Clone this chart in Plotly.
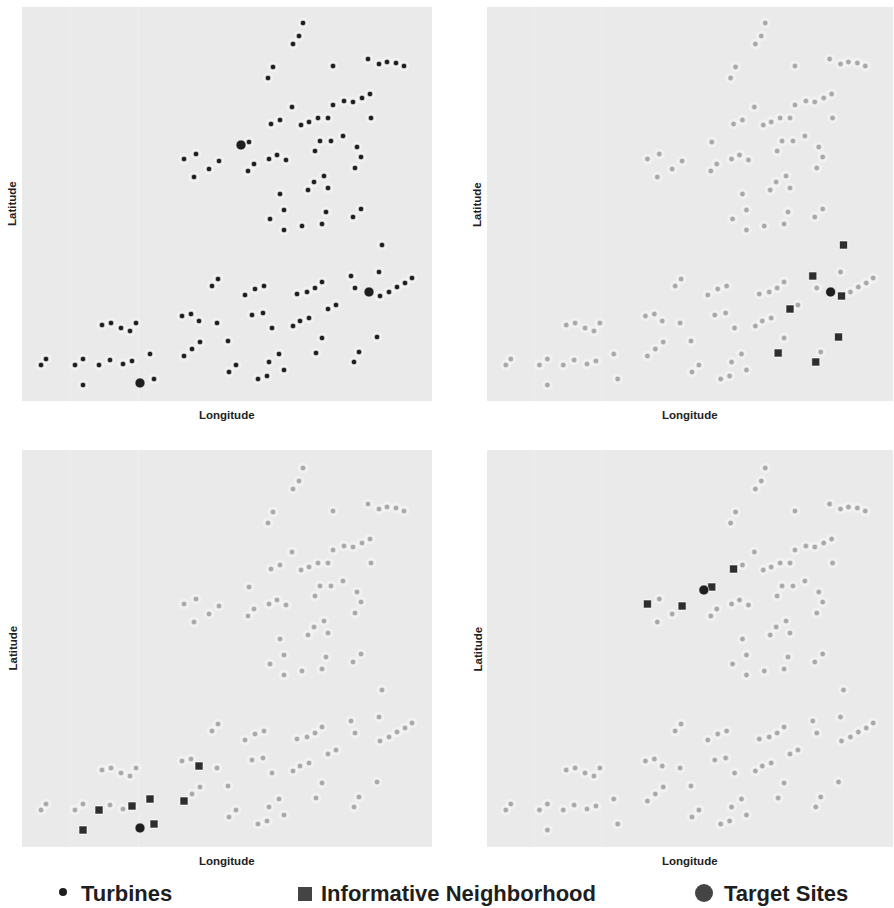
import plotly.graph_objects as go

W, H = 894, 908

# ---- data (arbitrary planar units: longitude / latitude) ----
turbine_lon = [164, 176, 199, 189, 174, 283, 279, 273, 253, 248,
               313, 348, 359, 367, 376, 384, 272, 251, 260, 281,
               289, 298, 308, 313, 324, 333, 342, 350, 351, 229,
               234, 228, 249, 257, 266, 300, 311, 323, 295, 337,
               341, 335, 304, 294, 288, 308, 260, 264, 250, 264,
               282, 306, 302, 341, 333, 362, 331, 359, 335, 360,
               369, 377, 385, 392, 198, 225, 235, 244, 277, 287,
               295, 302, 316, 308, 232, 243, 252, 273, 280, 289,
               302, 296, 357, 339, 334, 208, 216, 209, 259, 249,
               264, 247, 238, 192, 162, 171, 179, 197, 180, 172,
               164, 82, 91, 101, 110, 116, 26, 21, 63, 55,
               79, 90, 103, 112, 130, 63, 134]
turbine_lat = [241, 246, 239, 231, 223, 377, 364, 356, 333, 322,
               334, 341, 336, 338, 337, 334, 293, 276, 280, 275,
               278, 282, 282, 295, 299, 298, 302, 306, 282, 258,
               236, 229, 241, 245, 240, 259, 259, 264, 249, 253,
               243, 232, 224, 218, 210, 212, 206, 190, 181, 170,
               174, 188, 176, 191, 183, 155, 124, 128, 112, 104,
               108, 113, 117, 122, 121, 105, 111, 114, 106, 108,
               112, 118, 95, 91, 85, 87, 72, 74, 79, 82,
               62, 47, 63, 48, 38, 59, 35, 28, 46, 38,
               30, 24, 21, 114, 84, 86, 79, 77, 58, 51,
               44, 75, 77, 72, 69, 77, 41, 35, 41, 35,
               35, 40, 36, 39, 46, 15, 21]

target_lon = [221, 349, 120]
target_lat = [255, 108, 17]

# turbine indices forming the informative neighbourhood of each target
neighborhood = {
    1: [55, 56, 59, 73, 82, 81, 84],
    2: [96, 114, 100, 113, 110, 115, 116],
    0: [29, 17, 2, 0],
}

legend_labels = ["Turbines", "Informative Neighborhood", "Target Sites"]

# ---- layout geometry (pixels) ----
panels = [
    (22, 432, 7, 401, [-1, 393]),
    (487, 893, 7, 401, [-1, 393]),
    (22, 432, 450, 847, [-2, 395]),
    (487, 893, 450, 847, [-2, 395]),
]
XRANGE = [2, 412]
BG = "#eaeaea"

fig = go.Figure()
layout = dict(width=W, height=H, margin=dict(l=0, r=0, t=0, b=0),
              paper_bgcolor="white", plot_bgcolor=BG, showlegend=False)

for i, (x0, x1, yt, yb, yr) in enumerate(panels):
    n = "" if i == 0 else str(i + 1)
    layout["xaxis" + n] = dict(domain=[x0 / W, x1 / W], range=XRANGE,
                               anchor="y" + n, showticklabels=False, ticks="",
                               tickvals=[50, 118], showgrid=True, gridcolor="#eeeeee",
                               gridwidth=1, zeroline=False, showline=False)
    layout["yaxis" + n] = dict(domain=[1 - yb / H, 1 - yt / H], range=yr,
                               anchor="x" + n, showticklabels=False, ticks="",
                               showgrid=False, zeroline=False, showline=False)

annotations = []
shapes = []
for i, (x0, x1, yt, yb, yr) in enumerate(panels):
    xa = "x" if i == 0 else "x" + str(i + 1)
    ya = "y" if i == 0 else "y" + str(i + 1)
    # soft halo
    fig.add_trace(go.Scatter(x=turbine_lon, y=turbine_lat, mode="markers",
                             xaxis=xa, yaxis=ya, hoverinfo="skip",
                             marker=dict(size=11, color="white", opacity=0.35,
                                         line=dict(width=0))))
    if i == 0:
        fig.add_trace(go.Scatter(x=turbine_lon, y=turbine_lat, mode="markers",
                                 xaxis=xa, yaxis=ya, name="Turbines",
                                 marker=dict(size=5.5, color="#1e1e1e",
                                             line=dict(width=0.6, color="white"))))
        fig.add_trace(go.Scatter(x=target_lon, y=target_lat, mode="markers",
                                 xaxis=xa, yaxis=ya, name="Target Sites",
                                 marker=dict(size=10, color="#1e1e1e",
                                             line=dict(width=0.6, color="white"))))
    else:
        t = {1: 1, 2: 2, 3: 0}[i]
        fig.add_trace(go.Scatter(x=turbine_lon, y=turbine_lat, mode="markers",
                                 xaxis=xa, yaxis=ya, name="Turbines",
                                 marker=dict(size=5.5, color="#a8a8a8",
                                             line=dict(width=0.6, color="#f4f4f4"))))
        idx = neighborhood[t]
        fig.add_trace(go.Scatter(x=[turbine_lon[k] for k in idx],
                                 y=[turbine_lat[k] for k in idx], mode="markers",
                                 xaxis=xa, yaxis=ya, name="Informative Neighborhood",
                                 marker=dict(size=8, symbol="square", color="#2e2e2e",
                                             line=dict(width=0.6, color="white"))))
        fig.add_trace(go.Scatter(x=[target_lon[t]], y=[target_lat[t]], mode="markers",
                                 xaxis=xa, yaxis=ya, name="Target Sites",
                                 marker=dict(size=10, color="#1e1e1e",
                                             line=dict(width=0.6, color="white"))))
    annotations.append(dict(text="Longitude", xref="paper", yref="paper",
                            x=(x0 + x1) / 2 / W, y=1 - (yb + 14) / H,
                            showarrow=False, xanchor="center", yanchor="middle",
                            font=dict(family="Liberation Sans, Arial", size=11.5,
                                      color="#222", weight="bold")))
    annotations.append(dict(text="Latitude", xref="paper", yref="paper",
                            x=(x0 - 10) / W, y=1 - (yt + yb) / 2 / H,
                            showarrow=False, textangle=-90, xanchor="center",
                            yanchor="middle",
                            font=dict(family="Liberation Sans, Arial", size=11.5,
                                      color="#222", weight="bold")))

# ---- legend (bottom) ----
leg_y = 1 - 893 / H
leg_font = dict(family="Liberation Sans, Arial", size=22, color="#1e1e1e", weight="bold")
for label, xpx in zip(legend_labels, [79, 319, 722]):
    annotations.append(dict(text=label, xref="paper", yref="paper", x=xpx / W, y=leg_y,
                            showarrow=False, xanchor="left", yanchor="middle",
                            font=leg_font))
shapes.append(dict(type="circle", xref="paper", yref="paper",
                   x0=59 / W, x1=67 / W, y0=1 - 896 / H, y1=1 - 888 / H,
                   fillcolor="#1e1e1e", line=dict(width=0)))
shapes.append(dict(type="rect", xref="paper", yref="paper",
                   x0=298 / W, x1=312 / W, y0=1 - 901 / H, y1=1 - 887 / H,
                   fillcolor="#444444", line=dict(width=0)))
shapes.append(dict(type="circle", xref="paper", yref="paper",
                   x0=695 / W, x1=713 / W, y0=1 - 902 / H, y1=1 - 884 / H,
                   fillcolor="#444444", line=dict(width=0)))

layout["annotations"] = annotations
layout["shapes"] = shapes
fig.update_layout(**layout)
fig.write_html("out.html")
